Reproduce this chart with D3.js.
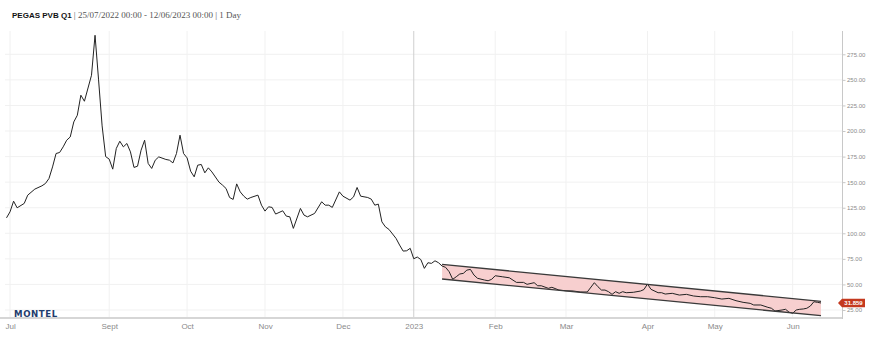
<!DOCTYPE html>
<html>
<head>
<meta charset="utf-8">
<script src="https://cdn.jsdelivr.net/npm/d3@7"></script>
<style>
  html, body { margin: 0; padding: 0; background: #fff; }
  svg { display: block; }
</style>
</head>
<body>
<svg id="chart" width="878" height="352"></svg>
<script>
// ---- data ----
const titleMain = "PEGAS PVB Q1";
const titleSub = " | 25/07/2022 00:00 - 12/06/2023 00:00 | 1 Day";

// trading-session number (0 = 25/07/2022) and settlement price
const session = [0,1,2,3,5,6,8,10,11,12,13,14,15,16,17,18,19,20,21,22,24,25,26,27,28,29,30,31,32,33,34,35,36,37,38,39,40,41,42,43,45,46,47,48,49,50,51,52,53,54,55,56,57,58,60,61,62,63,64,65,66,67,68,69,71,72,73,74,75,76,78,79,80,81,83,84,85,87,89,90,91,92,94,95,97,98,99,100,102,103,104,105,106,107,108,110,111,112,113,114,115,116,117,118,119,120,121,122,123,124,125,126,127,128,129,130,131,132,133,135,136,137,138,140,142,144,146,147,149,150,151,153,154,156,158,160,162,164,166,167,168,169,170,171,172,173,174,175,177,179,180,181,182,184,185,186,188,190,192,194,196,198,200,202,204,206,208,210,211,213,215,216,217,219,220,221,222,223,224,225,226,227,228,229,230];
const price = [115.1,121.0,131.4,124.9,129.2,137.3,143.2,146.4,148.7,153.6,164.9,178.0,179.0,184.5,191.0,194.2,208.9,215.4,235.0,229.1,254.5,293.6,250,205,175,172.5,162.7,182.9,190.0,184.5,187.8,179.6,164.4,165.6,181.2,191.0,168.3,163.4,171.5,174.7,172.2,171.5,168.8,178.0,195.9,178.0,173.7,160.7,155.2,166.6,167.3,159.1,164.0,160.0,150.0,147.1,143.8,135.0,133.1,148.3,140.5,136.3,133.4,135.0,137.3,127.5,121.7,125.9,125.3,118.8,122.0,116.8,116.1,104.8,124.3,117.8,116.1,119.4,130.8,127.5,127.5,125.3,140.5,136.3,132.4,135.6,144.8,136.3,135.0,133.4,127.5,128.5,111.2,106.3,103.8,95.0,88.5,82.6,82.9,85.3,75.1,76.8,74.3,65.7,71.2,70.6,73.1,71.2,68.0,66.7,62.4,55.0,57.5,60.2,60.8,64.0,64.7,59.2,56.0,54.3,53.6,55.0,58.5,57.5,56.5,52.0,52.0,50.1,51.7,48.7,48.7,46.2,47.2,44.5,43.8,43.6,42.6,42.6,51.7,47.8,44.5,44.5,42.9,40.3,42.9,41.3,42.9,41.9,42.3,43.5,45.0,50.4,45.2,41.9,41.9,40.6,41.3,39.6,40.3,38.7,38.0,38.0,37.0,35.7,36.4,34.1,32.5,31.5,29.9,29.9,27.6,26.7,24.0,25.0,25.7,22.8,21.8,25.0,25.7,26.0,26.7,28.9,33.1,32.5,31.859];
const lastValue = 31.859;

// trend channel
const channelSession = [123, 230];
const channelUpper = [69.6, 33.5];
const channelLower = [55.3, 19.4];

// axes
const xTickSession = [1, 29, 51, 73, 95, 115, 138, 158, 181, 200, 222];
const xTickLabels = ["Jul", "Sept", "Oct", "Nov", "Dec", "2023", "Feb", "Mar", "Apr", "May", "Jun"];
const yTicks = [25, 50, 75, 100, 125, 150, 175, 200, 225, 250, 275];

// ---- drawing ----
const svg = d3.select("#chart");
const plotLeft = 5, plotRight = 842, plotTop = 31, plotBottom = 318;

const x = d3.scaleLinear().domain([0, 230]).range([6.5, 821]);
const y = d3.scaleLinear().domain([25, 275]).range([310, 54.3]);

// title
const title = svg.append("text").attr("x", 12).attr("y", 18);
title.append("tspan").text(titleMain)
  .attr("font-family", "Liberation Sans, Arial, sans-serif")
  .attr("font-weight", "bold").attr("font-size", 8).attr("fill", "#111");
title.append("tspan").text(titleSub)
  .attr("font-family", "Liberation Serif, Times New Roman, serif")
  .attr("font-size", 9).attr("fill", "#555");

// horizontal gridlines
svg.append("g").selectAll("line").data(yTicks).join("line")
  .attr("x1", plotLeft).attr("x2", plotRight)
  .attr("y1", d => y(d)).attr("y2", d => y(d))
  .attr("stroke", "#f1f1f1").attr("stroke-width", 1);

// vertical gridlines
svg.append("g").selectAll("line").data(xTickSession).join("line")
  .attr("x1", d => x(d)).attr("x2", d => x(d))
  .attr("y1", plotTop).attr("y2", plotBottom)
  .attr("stroke", (d, i) => xTickLabels[i] === "2023" ? "#cfcfcf" : "#f1f1f1")
  .attr("stroke-width", 1);

// channel fill
const chan = channelSession.map((s, i) => ({ s, u: channelUpper[i], l: channelLower[i] }));
svg.append("path")
  .datum(chan)
  .attr("d", d3.area().x(d => x(d.s)).y0(d => y(d.l)).y1(d => y(d.u)))
  .attr("fill", "#f7cfcf");

// price line
const pts = session.map((s, i) => ({ s, v: price[i] }));
svg.append("path")
  .datum(pts)
  .attr("d", d3.line().x(d => x(d.s)).y(d => y(d.v)))
  .attr("fill", "none").attr("stroke", "#222").attr("stroke-width", 1)
  .attr("stroke-linejoin", "round");

// channel border lines
[channelUpper, channelLower].forEach(arr => {
  svg.append("path")
    .datum(channelSession.map((s, i) => ({ s, v: arr[i] })))
    .attr("d", d3.line().x(d => x(d.s)).y(d => y(d.v)))
    .attr("fill", "none").attr("stroke", "#3a3a3a").attr("stroke-width", 1.3);
});

// x axis line
svg.append("line").attr("x1", 0).attr("x2", plotRight)
  .attr("y1", plotBottom).attr("y2", plotBottom)
  .attr("stroke", "#d6d6d6").attr("stroke-width", 2);

// y axis line
svg.append("line").attr("x1", plotRight + 0.5).attr("x2", plotRight + 0.5)
  .attr("y1", plotTop).attr("y2", plotBottom + 1)
  .attr("stroke", "#c8c8c8").attr("stroke-width", 1);

// x axis labels
const xAxis = svg.append("g").attr("transform", `translate(0,${plotBottom})`)
  .call(d3.axisBottom(x).tickValues(xTickSession).tickSize(0).tickPadding(5)
    .tickFormat((d, i) => xTickLabels[i]));
xAxis.select(".domain").remove();
xAxis.selectAll("text").attr("font-family", "Liberation Sans, Arial, sans-serif")
  .attr("font-size", 8).attr("fill", "#8a8a8a");

// y axis labels
const yAxis = svg.append("g").attr("transform", `translate(${plotRight + 0.5},0)`)
  .call(d3.axisRight(y).tickValues(yTicks).tickSize(3).tickPadding(1.5)
    .tickFormat(d3.format(".2f")));
yAxis.select(".domain").remove();
yAxis.selectAll("line").attr("stroke", "#c8c8c8");
yAxis.selectAll("text").attr("font-family", "Liberation Sans, Arial, sans-serif")
  .attr("font-size", 6).attr("fill", "#8a8a8a");

// last value tag
const ty = y(lastValue);
svg.append("path")
  .attr("d", `M${plotRight - 4},${ty} L${plotRight},${ty - 4.3} L${plotRight + 23},${ty - 4.3} L${plotRight + 23},${ty + 4.3} L${plotRight},${ty + 4.3} Z`)
  .attr("fill", "#c4391f");
svg.append("text").attr("x", plotRight + 11.5).attr("y", ty + 2.2)
  .attr("text-anchor", "middle")
  .attr("font-family", "Liberation Sans, Arial, sans-serif")
  .attr("font-size", 6).attr("font-weight", "bold").attr("fill", "#fff")
  .text(d3.format(".3f")(lastValue));

// logo
svg.append("text").attr("x", 14).attr("y", 316.5)
  .attr("font-family", "DejaVu Sans, sans-serif").attr("font-weight", "bold")
  .attr("font-size", 8.6).attr("letter-spacing", 0.6).attr("fill", "#1f3c6d")
  .text("MONTEL");
</script>
</body>
</html>
